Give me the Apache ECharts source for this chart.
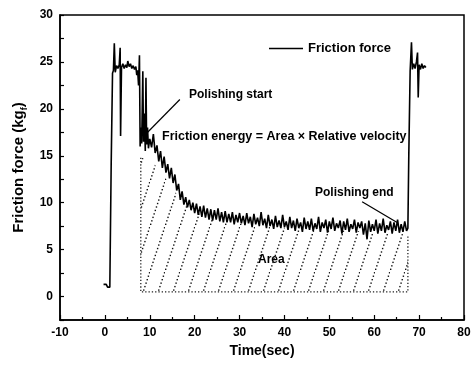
<!DOCTYPE html>
<html>
<head>
<meta charset="utf-8">
<script src="https://cdn.jsdelivr.net/npm/echarts/dist/echarts.min.js"></script>
<style>
  html, body { margin: 0; padding: 0; background: #fff; }
  #main { width: 471px; height: 367px; }
</style>
</head>
<body>
<div id="main"></div>
<script>
// friction force trace: [time (sec), force (kgf)]
var forceData = [
  [-0.3, 1.3], [0, 1.1], [0.3, 1.3], [0.6, 1.0], [0.9, 1.2], [1.1, 1.0], [1.4, 14], [1.7, 23.8],
  [1.9, 24.1], [2.1, 27.0], [2.3, 23.9], [2.6, 24.6], [2.9, 24.3], [3.2, 24.7], [3.4, 26.5], [3.5, 17.1],
  [3.7, 24.4], [4.0, 24.8], [4.3, 24.3], [4.6, 24.7], [4.9, 24.4], [5.1, 25.1], [5.4, 24.5], [5.7, 24.8],
  [6.0, 24.3], [6.3, 24.6], [6.6, 24.2], [6.9, 24.5], [7.1, 23.6], [7.3, 24.1], [7.5, 22.5], [7.7, 25.7],
  [7.85, 16.0], [8.0, 18.0], [8.2, 16.3], [8.45, 24.0], [8.6, 16.5], [8.8, 19.5], [9.0, 15.5], [9.15, 23.3],
  [9.3, 16.2], [9.5, 18.0], [9.7, 15.8],
  [10.0, 16.8], [10.4, 15.9], [10.8, 17.3], [11.2, 15.3], [11.6, 16.1], [12.0, 14.4], [12.4, 15.5], [12.8, 13.7],
  [13.2, 14.9], [13.6, 13.2], [14.0, 14.1], [14.4, 12.6], [14.8, 13.7], [15.2, 12.1], [15.6, 13.0], [16.0, 11.3],
  [16.4, 12.0], [16.8, 10.3], [17.2, 11.2], [17.6, 9.8], [18.0, 10.6], [18.4, 9.5], [18.8, 10.3], [19.2, 9.2],
  [19.6, 10.0],
  [20.0, 8.9], [20.4, 9.9], [20.8, 8.7], [21.2, 9.6], [21.6, 8.5], [22.0, 9.7], [22.4, 8.4], [22.8, 9.4],
  [23.2, 8.2], [23.6, 9.3], [24.0, 8.1], [24.4, 9.2], [24.8, 8.2], [25.2, 9.4], [25.6, 8.0], [26.0, 9.0],
  [26.4, 7.9], [26.8, 9.1], [27.2, 7.9], [27.6, 8.8], [28.0, 7.9], [28.4, 9.0], [28.8, 7.7], [29.2, 8.7],
  [29.6, 7.9], [30.0, 8.9], [30.4, 7.8], [30.8, 8.6], [31.2, 7.6], [31.6, 8.9], [32.0, 7.8], [32.4, 8.5],
  [32.8, 7.4], [33.2, 8.8], [33.6, 7.7], [34.0, 8.4], [34.4, 7.5], [34.8, 9.0], [35.2, 7.6], [35.6, 8.3],
  [36.0, 7.3], [36.4, 8.7], [36.8, 7.5], [37.2, 8.2], [37.6, 7.2], [38.0, 8.6], [38.4, 7.4], [38.8, 8.1],
  [39.2, 7.3], [39.6, 8.7], [40.0, 7.4], [40.4, 8.0], [40.8, 7.1], [41.2, 8.5], [41.6, 7.3], [42.0, 8.1],
  [42.4, 7.0], [42.8, 8.3], [43.2, 7.3], [43.6, 7.9], [44.0, 6.9], [44.4, 8.4], [44.8, 7.2], [45.2, 8.0],
  [45.6, 7.1], [46.0, 8.3], [46.4, 7.0], [46.8, 7.8], [47.2, 7.2], [47.6, 8.5], [48.0, 6.9], [48.4, 7.9],
  [48.8, 7.3], [49.2, 8.2], [49.6, 6.8], [50.0, 8.0], [50.4, 7.2], [50.8, 8.4], [51.2, 7.0], [51.6, 7.8],
  [52.0, 7.3], [52.4, 8.1], [52.8, 6.7], [53.2, 8.0], [53.6, 7.1], [54.0, 8.3], [54.4, 6.9], [54.8, 7.7],
  [55.2, 7.2], [55.6, 8.2], [56.0, 6.8], [56.4, 7.9], [56.8, 7.3], [57.2, 8.0], [57.6, 6.6], [58.0, 7.8],
  [58.4, 6.1], [58.8, 8.1], [59.2, 6.9], [59.6, 7.7], [60.0, 7.0], [60.4, 8.2], [60.8, 6.7], [61.2, 7.8],
  [61.6, 7.0], [62.0, 8.3], [62.4, 6.8], [62.8, 7.6], [63.2, 7.1], [63.6, 8.0], [64.0, 6.7], [64.4, 7.9],
  [64.8, 7.0], [65.2, 8.2], [65.6, 6.8], [66.0, 7.7], [66.4, 6.9], [66.8, 8.0], [67.2, 7.0], [67.5, 7.3],
  [67.7, 15], [68.0, 24], [68.3, 27.1], [68.5, 24.2], [68.8, 24.8], [69.1, 24.3], [69.4, 25.0], [69.65, 26.0],
  [69.8, 21.2], [70.0, 24.7], [70.3, 24.2], [70.6, 24.8], [70.9, 24.3], [71.2, 24.6], [71.5, 24.4]
];

// upper edge of the hatched "Area" region
var areaTop = [
  [8, 14.8], [10, 14.6], [12, 13.6], [14, 12.3], [16, 10.9], [18, 9.8], [20, 9.0], [24, 8.4],
  [28, 7.9], [35, 7.5], [45, 7.2], [55, 7.0], [62, 6.8], [67.5, 6.6]
];
var areaBase = 0.5;
var areaBox = [[8, 14.8], [8, areaBase], [67.5, areaBase], [67.5, 6.6]];

// annotation leader lines
var startPointer = [[16.7, 21.0], [9.3, 17.4]];
var endPointer = [[57.3, 10.1], [65.1, 7.9]];

var FONT = '"Liberation Sans", Arial, sans-serif';

// dotted diagonal hatch used for the area
function hatch() {
  var c = document.createElement('canvas');
  c.width = 15;
  c.height = 45;
  var ctx = c.getContext('2d');
  ctx.fillStyle = '#111';
  for (var i = 0; i < 13; i++) {
    var y = 45 - i * 45 / 13;
    var x = (45 - y) / 3;
    ctx.fillRect(x, y - 1.4, 1.4, 1.4);
  }
  return c;
}

var chart = echarts.init(document.getElementById('main'));
chart.setOption({
  animation: false,
  backgroundColor: '#fff',
  grid: {
    left: 60, right: 7, top: 15, bottom: 47,
    show: true, borderColor: '#000', borderWidth: 1.5,
    outerBoundsMode: 'none'
  },
  legend: {
    data: ['Friction force'],
    left: 269, top: 42, padding: 0,
    icon: 'rect', itemWidth: 34, itemHeight: 1.5,
    selectedMode: false,
    textStyle: { fontFamily: FONT, fontWeight: 'bold', fontSize: 13, color: '#000' }
  },
  xAxis: {
    type: 'value', min: -10, max: 80, interval: 10,
    name: 'Time(sec)', nameLocation: 'middle', nameGap: 21,
    nameTextStyle: { fontFamily: FONT, fontWeight: 'bold', fontSize: 14, color: '#000' },
    axisLine: { show: true, onZero: false, lineStyle: { color: '#000', width: 1.5 } },
    axisTick: { show: true, inside: true, length: 5, lineStyle: { color: '#000', width: 1.2 } },
    minorTick: { show: true, splitNumber: 2, length: 3, lineStyle: { color: '#000', width: 1.2 } },
    axisLabel: { fontFamily: FONT, fontWeight: 'bold', fontSize: 12, color: '#000', margin: 7 },
    splitLine: { show: false }
  },
  yAxis: {
    type: 'value', min: -2.5, max: 30, interval: 2.5,
    name: '{a|Friction force (kg}{s|f}{a|)}', nameLocation: 'middle', nameGap: 27, nameRotate: 90,
    nameTextStyle: {
      rich: {
        a: { fontFamily: FONT, fontWeight: 'bold', fontSize: 15, color: '#000', lineHeight: 20 },
        s: { fontFamily: FONT, fontWeight: 'bold', fontSize: 9, color: '#000', lineHeight: 20, verticalAlign: 'bottom' }
      }
    },
    axisLine: { show: true, onZero: false, lineStyle: { color: '#000', width: 1.5 } },
    axisTick: { show: true, inside: true, length: 4, lineStyle: { color: '#000', width: 1.2 } },
    axisLabel: {
      fontFamily: FONT, fontWeight: 'bold', fontSize: 12, color: '#000', margin: 7,
      formatter: function (v) { return v % 5 === 0 ? String(v) : ''; }
    },
    splitLine: { show: false }
  },
  graphic: [
    { type: 'text', x: 189, y: 95, style: { text: 'Polishing start', fontFamily: FONT, fontWeight: 'bold', fontSize: 12, fill: '#000', verticalAlign: 'middle' } },
    { type: 'text', x: 162, y: 137, style: { text: 'Friction energy = Area \u00d7 Relative velocity', fontFamily: FONT, fontWeight: 'bold', fontSize: 12.5, fill: '#000', verticalAlign: 'middle' } },
    { type: 'text', x: 315, y: 193, style: { text: 'Polishing end', fontFamily: FONT, fontWeight: 'bold', fontSize: 12, fill: '#000', verticalAlign: 'middle' } },
    { type: 'text', x: 258, y: 260, style: { text: 'Area', fontFamily: FONT, fontWeight: 'bold', fontSize: 12, fill: '#000', verticalAlign: 'middle' } }
  ],
  series: [
    {
      name: 'area', type: 'line', data: areaTop, showSymbol: false, silent: true, z: 1,
      lineStyle: { width: 0, opacity: 0 },
      areaStyle: { color: { image: hatch(), repeat: 'repeat' }, opacity: 1, origin: areaBase }
    },
    {
      name: 'areaBox', type: 'line', data: areaBox, showSymbol: false, silent: true, z: 2,
      lineStyle: { color: '#222', width: 1.3, type: [1.3, 2] }
    },
    {
      name: 'Friction force', type: 'line', data: forceData, showSymbol: false, z: 3,
      lineStyle: { color: '#000', width: 1.6 }, itemStyle: { color: '#000' }
    },
    {
      name: 'startPointer', type: 'line', data: startPointer, showSymbol: false, silent: true, z: 4,
      lineStyle: { color: '#000', width: 1.2 }
    },
    {
      name: 'endPointer', type: 'line', data: endPointer, showSymbol: false, silent: true, z: 4,
      lineStyle: { color: '#000', width: 1.2 }
    }
  ]
});
</script>
</body>
</html>
